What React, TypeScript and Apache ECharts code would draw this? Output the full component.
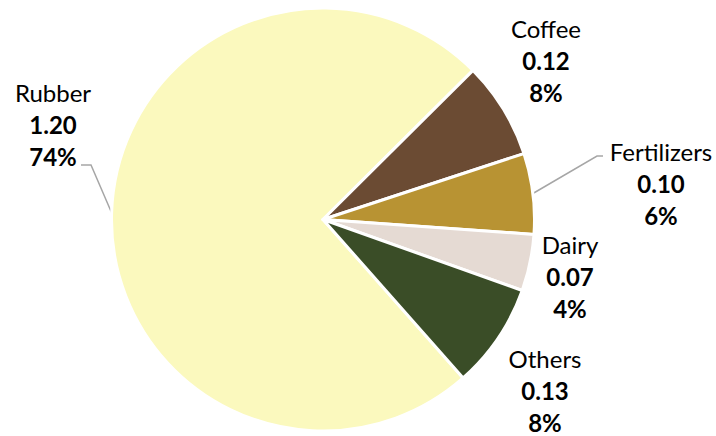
import React, { useEffect, useRef } from "react";
import * as echarts from "echarts";

const categories = ["Rubber", "Coffee", "Fertilizers", "Dairy", "Others"];
const values = [1.2, 0.12, 0.1, 0.07, 0.13];
const colors = ["#FBF9BE", "#6B4B33", "#B89333", "#E5DAD3", "#3A4D27"];
const showLine = [true, false, true, false, false];

// label block centres (middle line) in px
const labelPos: [number, number][] = [
  [53, 124],
  [546, 60],
  [661, 183],
  [570, 276],
  [545, 390],
];
// leader line elbow + end, relative to label centre
const lineRel: Record<number, [number, number][]> = {
  0: [
    [38, 41],
    [28, 41],
  ],
  2: [
    [-64, -27],
    [-58, -27],
  ],
};

export default function App() {
  const ref = useRef<HTMLDivElement>(null);
  useEffect(() => {
    document.body.style.margin = "0";
    const chart = echarts.init(ref.current!, null, { renderer: "svg" });
    chart.setOption({
      animation: false,
      series: [
        {
          type: "pie",
          center: [323, 219.5],
          radius: 211.5,
          startAngle: 311.5,
          clockwise: true,
          percentPrecision: 0,
          avoidLabelOverlap: false,
          itemStyle: { borderColor: "#ffffff", borderWidth: 3 },
          label: {
            show: true,
            position: "outside",
            fontFamily: "Lato",
            formatter: (p: any) =>
              `{n|${p.name}}\n{v|${Number(p.value).toFixed(2)}}\n{v|${p.percent}%}`,
            rich: {
              n: { fontFamily: "Lato", fontSize: 24, color: "#000", lineHeight: 32, align: "center" },
              v: { fontFamily: "Lato", fontSize: 24, fontWeight: "bold", color: "#000", lineHeight: 32, align: "center" },
            },
          },
          labelLine: {
            show: true,
            lineStyle: { color: "#A6A6A6", width: 1.5 },
          },
          labelLayout: (params: any) => {
            const i = params.dataIndex;
            const [x, y] = labelPos[i];
            const out: any = { x, y, align: "center", verticalAlign: "middle" };
            if (lineRel[i] && params.labelLinePoints) {
              const a = params.labelLinePoints[0];
              out.labelLinePoints = [
                [a[0], a[1]],
                [x + lineRel[i][0][0], y + lineRel[i][0][1]],
                [x + lineRel[i][1][0], y + lineRel[i][1][1]],
              ];
            }
            return out;
          },
          data: categories.map((name, i) => ({
            name,
            value: values[i],
            itemStyle: { color: colors[i] },
            labelLine: { show: showLine[i] },
          })),
        },
      ],
    });
    return () => chart.dispose();
  }, []);
  return (
    <div
      ref={ref}
      style={{ position: "absolute", left: 0, top: 0, width: 716, height: 436, background: "#fff" }}
    />
  );
}
